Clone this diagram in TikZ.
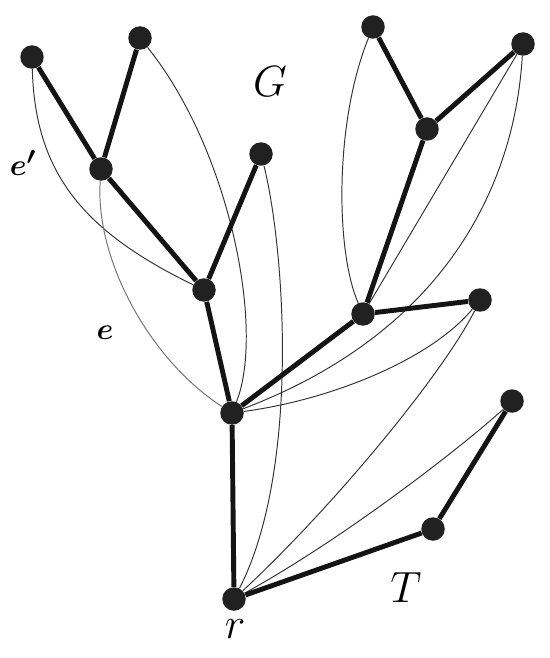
\documentclass[tikz,border=0pt]{standalone}
\usepackage{bm}
\usetikzlibrary{backgrounds}
\begin{document}
\begin{tikzpicture}[x=0.02cm,y=-0.02cm,
  vtx/.style={circle,fill=black!87,draw=none,minimum size=0.47cm,inner sep=0pt},
  tree/.style={line width=2.8pt,black!92},
  thinedge/.style={line width=0.55pt,black!80},
  biglbl/.style={inner sep=0pt,font=\fontsize{26}{30}\selectfont},
  elbl/.style={inner sep=0pt,font=\fontsize{19}{22}\selectfont}]
\useasboundingbox (0,0) rectangle (550,658);
% vertices
\node[vtx] (A)  at (32,57)   {};
\node[vtx] (B)  at (140,38)  {};
\node[vtx] (C)  at (101,169) {};
\node[vtx] (D)  at (261,154) {};
\node[vtx] (E)  at (204,290) {};
\node[vtx] (F)  at (232,413) {};
\node[vtx] (R)  at (234,599) {};
\node[vtx] (G1) at (373,27)  {};
\node[vtx] (G2) at (523,44)  {};
\node[vtx] (H)  at (427,129) {};
\node[vtx] (I)  at (363,314) {};
\node[vtx] (J)  at (480,300) {};
\node[vtx] (K)  at (512,401) {};
\node[vtx] (L)  at (433,529) {};
% labels
\node[biglbl] (lG) at (270,82) {$G$};
\node[biglbl] (lT) at (406,588) {$T$};
\node[biglbl] (lr) at (235,629) {$r$};
\node[elbl] (leprime) at (23,163) {$\bm{e}^{\bm{\prime}}$};
\node[elbl] (le) at (105,333) {$\bm{e}$};
\begin{pgfonlayer}{background}
% non-tree edges
\draw[thinedge] (A) .. controls (35,170) and (80,230) .. (E);
\draw[thinedge,black!55] (C) .. controls (95,260) and (150,360) .. (F);
\draw[thinedge] (B) .. controls (230,150) and (265,330) .. (F);
\draw[thinedge] (D) .. controls (285,250) and (300,470) .. (R);
\draw[thinedge] (G1) .. controls (335,120) and (335,250) .. (I);
\draw[thinedge] (G2) -- (I);
\draw[thinedge] (G2) .. controls (515,180) and (450,330) .. (F);
\draw[thinedge] (F) .. controls (330,400) and (430,360) .. (J);
\draw[thinedge] (J) .. controls (445,370) and (340,500) .. (R);
\draw[thinedge] (K) .. controls (470,440) and (350,535) .. (R);
% tree edges
\draw[tree] (A) -- (C);
\draw[tree] (B) -- (C);
\draw[tree] (C) -- (E);
\draw[tree] (D) -- (E);
\draw[tree] (E) -- (F);
\draw[tree] (F) -- (R);
\draw[tree] (F) -- (I);
\draw[tree] (I) -- (H);
\draw[tree] (H) -- (G1);
\draw[tree] (H) -- (G2);
\draw[tree] (I) -- (J);
\draw[tree] (R) -- (L);
\draw[tree] (L) -- (K);
\end{pgfonlayer}
\end{tikzpicture}
\end{document}
